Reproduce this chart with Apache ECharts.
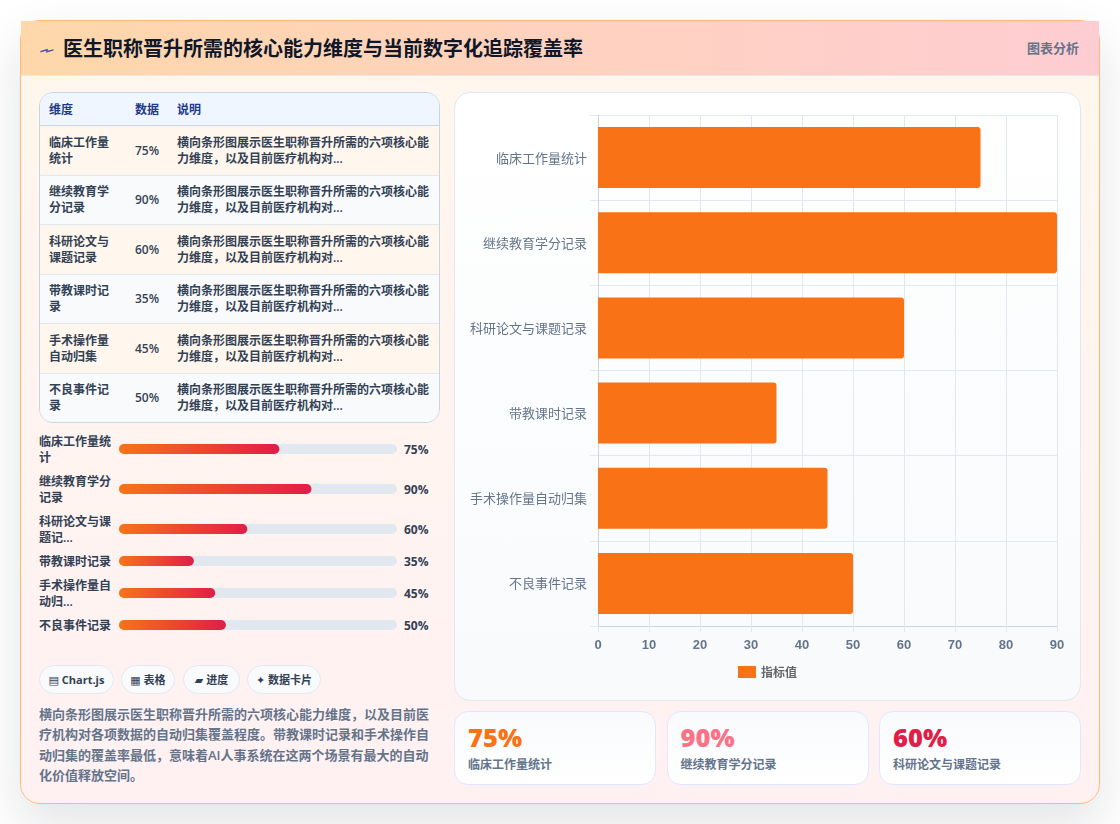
<!DOCTYPE html>
<html lang="zh-CN">
<head>
<meta charset="utf-8">
<title>医生职称晋升所需的核心能力维度与当前数字化追踪覆盖率</title>
<script src="https://cdn.jsdelivr.net/npm/echarts@6/dist/echarts.min.js"></script>
<style>
  html, body { margin: 0; padding: 0; width: 1120px; height: 824px; overflow: hidden; background: #fff; }
  body { font-family: "Open Sans", "Noto Sans CJK SC", sans-serif; position: relative; }
  .abs { position: absolute; box-sizing: border-box; }
  #card { left: 20px; top: 20px; width: 1080px; height: 784px; border: 1px solid #fdba74; border-radius: 20px;
          background: linear-gradient(180deg, #fff7ed, #fff1f2); box-shadow: 0 20px 50px rgba(15,23,42,.12); }
  #head { left: 21px; top: 21px; width: 1078px; height: 55px; background: linear-gradient(90deg, #fed7aa, #fecdd3);
          border-bottom: 1px solid rgba(226,232,240,.8); }
  #icon { left: 41px; top: 37px; font: 400 20px/26px "DejaVu Sans", sans-serif; color: #4a5aa8; transform: scale(-1.35, .7); }
  #title { left: 63px; top: 34px; font-size: 20px; line-height: 30px; font-weight: 700; color: #0f172a; white-space: nowrap; }
  #tag { left: 1027px; top: 38px; font-size: 13px; line-height: 20px; font-weight: 700; color: #64748b; white-space: nowrap; }
  #tbl { left: 39px; top: 92px; width: 401px; height: 331px; border: 1px solid #cbd5e1; border-radius: 14px; overflow: hidden; background: #f8fafc; }
  #tbl .r { position: absolute; left: 0; width: 399px; box-sizing: border-box; border-bottom: 1px solid #e2e8f0; }
  #tbl .c { position: absolute; font-size: 12px; line-height: 16px; font-weight: 600; color: #334155; }
  #tbl .hd { color: #1e3a8a; font-weight: 700; }
  .pl { left: 39px; width: 74px; font-size: 12px; line-height: 16px; font-weight: 600; color: #334155; }
  .pv { left: 404px; font-size: 12px; line-height: 16px; font-weight: 700; color: #334155; white-space: nowrap; }
  .chip { top: 665px; height: 29px; border: 1px solid #e2e8f0; border-radius: 15px; background: #f8fafc; text-align: center;
          font-size: 11px; line-height: 27px; font-weight: 700; color: #334155; white-space: nowrap; }
  .chip span { font-family: "DejaVu Sans", sans-serif; }
  #desc { left: 39px; top: 704px; width: 392px; font-size: 13px; line-height: 20.4px; font-weight: 600; color: #64748b; }
  #panel { left: 454px; top: 92px; width: 627px; height: 609px; border: 1px solid #e2e8f0; border-radius: 16px;
           background: linear-gradient(180deg, #ffffff, #f8fafc); }
  #main { left: 455px; top: 93px; width: 625px; height: 607px; }
  #mini { left: 119px; top: 433px; width: 278px; height: 208px; }
  .kpi { top: 711px; height: 74px; border: 1px solid #e0e7ff; border-radius: 14px; background: linear-gradient(180deg, #f8fafc, #ffffff); }
  .kv { position: absolute; left: 13px; top: 7px; font-size: 25.5px; line-height: 36px; font-weight: 800; white-space: nowrap; }
  .kl { position: absolute; left: 13px; top: 44px; font-size: 12px; line-height: 18px; font-weight: 600; color: #64748b; white-space: nowrap; }
</style>
</head>
<body>
<div class="abs" id="card"></div>
<div class="abs" id="head"></div>
<div class="abs" id="icon">⌁</div>
<div class="abs" id="title">医生职称晋升所需的核心能力维度与当前数字化追踪覆盖率</div>
<div class="abs" id="tag">图表分析</div>
<div class="abs" id="tbl"></div>
<div class="abs" id="panel"></div>
<div class="abs" id="main"></div>
<div class="abs" id="mini"></div>
<div class="abs" id="desc"></div>
<script>
// Six competency dimensions and their automatic-collection coverage (%)
const categories = ['临床工作量统计', '继续教育学分记录', '科研论文与课题记录', '带教课时记录', '手术操作量自动归集', '不良事件记录'];
const coverage = [75, 90, 60, 35, 45, 50];
const tableNames = ['临床工作量统计', '继续教育学分记录', '科研论文与课题记录', '带教课时记录', '手术操作量自动归集', '不良事件记录'];
const tableHeaders = ['维度', '数据', '说明'];
const tableNote = '横向条形图展示医生职称晋升所需的六项核心能力维度，以及目前医疗机构对...';
const progressNames = ['临床工作量统计', '继续教育学分记录', '科研论文与课题记...', '带教课时记录', '手术操作量自动归...', '不良事件记录'];
const chips = [['▤', 'Chart.js', 39, 75], ['▦', '表格', 121, 54], ['▰', '进度', 183, 57], ['✦', '数据卡片', 247, 74]];
const kpiColors = ['#f97316', '#fb7185', '#e11d48'];
const summary = '横向条形图展示医生职称晋升所需的六项核心能力维度，以及目前医疗机构对各项数据的自动归集覆盖程度。带教课时记录和手术操作自动归集的覆盖率最低，意味着AI人事系统在这两个场景有最大的自动化价值释放空间。';
const axisTicks = { min: 0, max: 90, step: 10 };
const progressScaleMax = 130;
const progressCentres = [449, 489, 529, 561, 593, 625];

const el = (cls, css, text, parent) => {
  const d = document.createElement('div');
  d.className = cls;
  d.style.cssText = css;
  if (text !== undefined) d.textContent = text;
  (parent || document.body).appendChild(d);
  return d;
};

// Data table
const tbl = document.getElementById('tbl');
const colX = [9, 95, 137];
const colW = [66, 36, 256];
el('r', 'top:0;height:33px;background:#eff6ff;border-bottom:1px solid #cbd5e1', undefined, tbl);
tableHeaders.forEach((h, i) => el('c hd', `left:${colX[i]}px;top:9px`, h, tbl));
tableNames.forEach((name, i) => {
  const top = 33 + i * 49.5;
  el('r', `top:${top}px;height:49.5px;background:${i % 2 ? '#f8fafc' : '#fff7ed'}`, undefined, tbl);
  el('c', `left:${colX[0]}px;top:${top + 8.5}px;width:${colW[0]}px`, name, tbl);
  el('c', `left:${colX[1]}px;top:${top + 16.5}px`, coverage[i] + '%', tbl);
  el('c', `left:${colX[2]}px;top:${top + 8.5}px;width:${colW[2]}px`, tableNote, tbl);
});

// Progress row captions
progressNames.forEach((name, i) => {
  const lines = name.length > 6 ? 2 : 1;
  el('abs pl', `top:${progressCentres[i] - lines * 8 + 1}px`, name);
  el('abs pv', `top:${progressCentres[i] - 7}px`, coverage[i] + '%');
});

// Chips, summary paragraph, KPI cards
chips.forEach(([icon, t, x, w]) => {
  const c = el('abs chip', `left:${x}px;width:${w}px`);
  const s = document.createElement('span');
  s.textContent = icon;
  c.appendChild(s);
  c.appendChild(document.createTextNode(' ' + t));
});
document.getElementById('desc').textContent = summary;
[454, 666.5, 879].forEach((x, i) => {
  const k = el('abs kpi', `left:${x}px;width:202px`);
  el('kv', `color:${kpiColors[i]}`, coverage[i] + '%', k);
  el('kl', '', categories[i], k);
});

// Main horizontal bar chart
const main = echarts.init(document.getElementById('main'));
main.setOption({
  animation: false,
  textStyle: { fontFamily: '"Noto Sans CJK SC", sans-serif' },
  legend: {
    left: 278, top: 568, itemWidth: 18, itemHeight: 12, icon: 'rect',
    textStyle: { color: '#666', fontSize: 12, fontWeight: 'bold', fontFamily: '"Noto Sans CJK SC", sans-serif' }
  },
  grid: { left: 143, top: 22, width: 459, height: 511 },
  xAxis: {
    type: 'value', min: axisTicks.min, max: axisTicks.max, interval: axisTicks.step,
    axisLine: { show: true, lineStyle: { color: '#cbd5e1' } },
    axisTick: { show: true, length: 6, lineStyle: { color: '#e2e8f0' } },
    splitLine: { show: true, lineStyle: { color: '#e2e8f0' } },
    axisLabel: { color: '#64748b', fontSize: 13, fontWeight: 'bold', margin: 13, fontFamily: '"Liberation Sans", sans-serif' }
  },
  yAxis: {
    type: 'category', inverse: true, data: categories,
    axisLine: { show: true, lineStyle: { color: '#cbd5e1' } },
    axisTick: { show: true, length: 8, lineStyle: { color: '#e2e8f0' } },
    splitLine: { show: true, lineStyle: { color: '#e2e8f0' } },
    axisLabel: { color: '#64748b', fontSize: 13, margin: 11, lineHeight: 13, padding: [0, 0, 3, 0], fontFamily: '"Noto Sans CJK SC", sans-serif' }
  },
  series: [{
    type: 'bar', name: '指标值', data: coverage, barWidth: 61,
    itemStyle: { color: '#f97316', borderRadius: [0, 3, 3, 0] }
  }]
});

// Gradient progress bars, one small grid per row so rows may differ in height
const mini = echarts.init(document.getElementById('mini'));
const miniTop = 433;
mini.setOption({
  animation: false,
  grid: progressCentres.map(c => ({ left: 0, right: 0, top: c - 5 - miniTop, height: 10 })),
  xAxis: progressCentres.map((c, i) => ({ type: 'value', gridIndex: i, min: 0, max: progressScaleMax, show: false })),
  yAxis: progressCentres.map((c, i) => ({ type: 'category', gridIndex: i, data: [categories[i]], show: false })),
  series: coverage.map((v, i) => ({
    type: 'bar', xAxisIndex: i, yAxisIndex: i, data: [v], barWidth: 10,
    showBackground: true,
    backgroundStyle: { color: '#e2e8f0', borderRadius: 5 },
    itemStyle: {
      borderRadius: 5,
      color: new echarts.graphic.LinearGradient(0, 0, 1, 0, [
        { offset: 0, color: '#f97316' }, { offset: 1, color: '#e11d48' }
      ])
    }
  }))
});
</script>
</body>
</html>
